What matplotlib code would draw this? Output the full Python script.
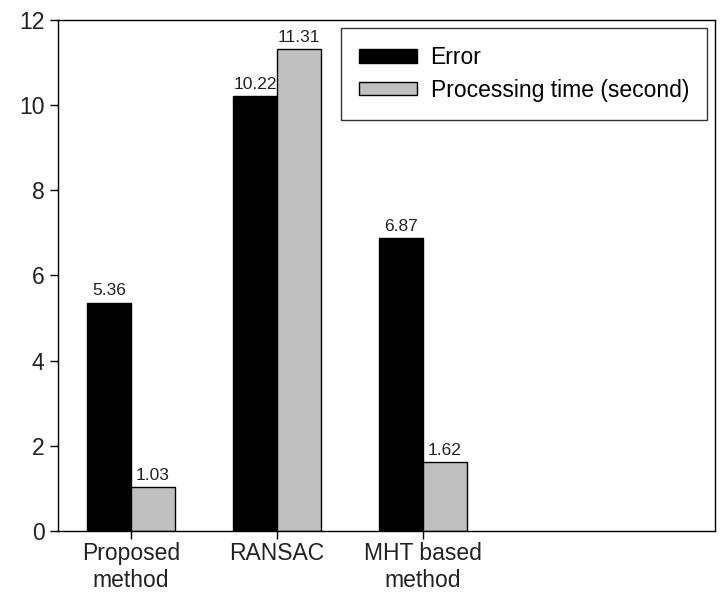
import numpy as np
import matplotlib.pyplot as plt

plt.rcParams['font.family'] = ['Liberation Sans', 'DejaVu Sans']

methods = ['Proposed\nmethod', 'RANSAC', 'MHT based\nmethod']
error = [5.36, 10.22, 6.87]
proc_time = [1.03, 11.31, 1.62]
series_names = ['Error', 'Processing time (second)']

fig = plt.figure(figsize=(7.21, 6.06), dpi=100)
ax = fig.add_axes([0.080, 0.124, 0.912, 0.843])

x = np.arange(len(methods))
w = 0.30
b1 = ax.bar(x - w / 2, error, w, color='black', edgecolor='black', linewidth=1, label=series_names[0])
b2 = ax.bar(x + w / 2, proc_time, w, color='#c0c0c0', edgecolor='black', linewidth=1, label=series_names[1])

for bars, vals in [(b1, error), (b2, proc_time)]:
    for bar, v in zip(bars, vals):
        ax.text(bar.get_x() + bar.get_width() / 2, v + 0.1, f'{v:.2f}',
                ha='center', va='bottom', fontsize=12.5, color='#222222')

ax.set_xlim(-0.5, 4.0)
ax.set_ylim(0, 12)
ax.set_yticks(range(0, 13, 2))
ax.set_xticks(x)
ax.set_xticklabels(methods, fontsize=16.5, color='#222222', linespacing=1.25)
ax.tick_params(axis='y', labelsize=16.5, labelcolor='#222222', direction='out', length=6, width=1)
ax.tick_params(axis='x', direction='out', length=6, width=1, pad=2)
for s in ax.spines.values():
    s.set_linewidth(1)

leg = ax.legend(loc='upper right', fontsize=16.5, frameon=True, fancybox=False,
                edgecolor='black', handlelength=2.5, handleheight=0.55,
                borderaxespad=0.35, borderpad=0.8, labelspacing=0.4, handletextpad=0.6)
leg.get_frame().set_linewidth(1)

fig.savefig('out.png', dpi=100)
